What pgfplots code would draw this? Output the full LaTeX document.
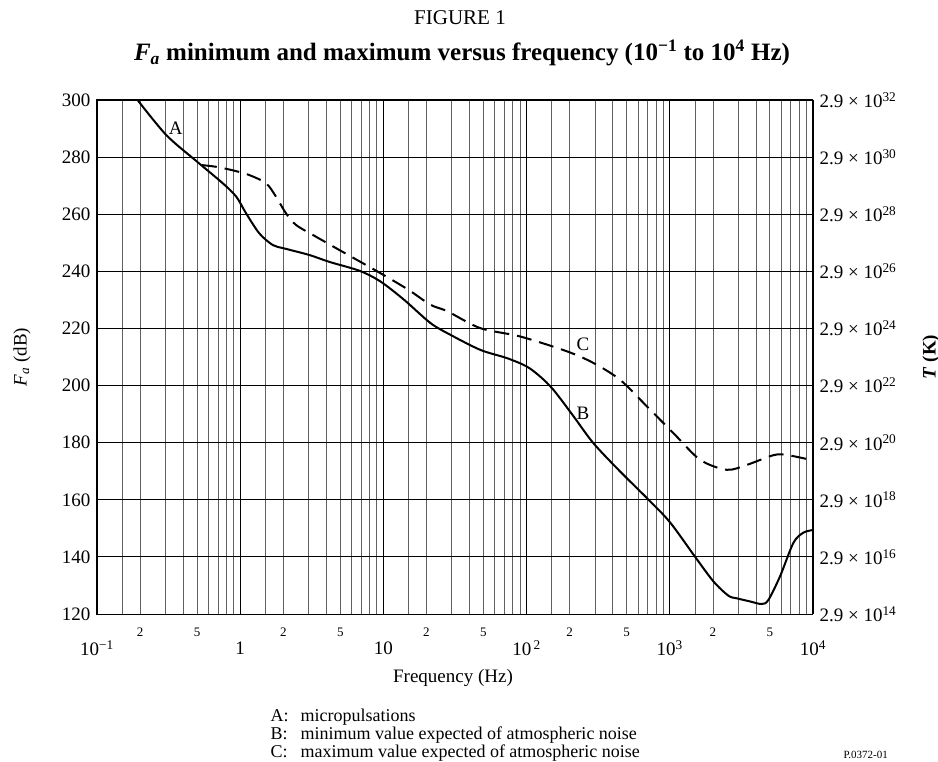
\documentclass[border=0pt]{standalone}
\usepackage{fontspec}
\setmainfont{Liberation Serif}
\usepackage{pgfplots}
\usepackage{pgfplotstable}
\pgfplotsset{compat=1.18}

% Curve A/B: micropulsations + minimum atmospheric noise (Hz, dB)
\pgfplotstableread{
f    Fa
0.192 300
0.305 287.7
0.5  278.4
0.757 270.8
0.94 266.1
1.10 260.3
1.36 253.3
1.69 249.2
2.04 248.0
3.05 245.7
4.2  243.3
6.8  240.2
9.5  236.5
13.9 230.1
21.3 221.9
29.3 217.8
47.5 212.5
73   209.6
100  206.7
124  203.2
154  198.5
213  189.2
293  179.8
450  169.9
692  160.6
1000 152.2
1503 140.0
2018 131.4
2567 126.4
2934 125.5
3633 124.4
4382 123.5
4878 124.9
5888 133.2
7295 144.9
8570 148.5
10000 149.4
}\curveB

% Curve C: maximum atmospheric noise (Hz, dB)
\pgfplotstableread{
f    Fa
0.54 277.2
0.68 276.6
0.9  275.3
1.16 273.7
1.52 270.8
1.78 266.1
2.09 260.3
2.46 256.2
3.39 252.1
5.2  246.8
9.5  239.4
15   233.5
21.3 228.3
28   226.0
47.5 220.1
90   217.2
191  212.0
293  207.9
450  202.0
692  192.7
1062 183.3
1629 174.0
2500 170.5
3445 172.2
5280 175.6
6550 175.7
10000 173.8
}\curveC

\newcommand{\fs}[1]{\fontsize{#1}{#1}\selectfont}

\begin{document}
\begin{tikzpicture}
\useasboundingbox (0,0) rectangle (938pt,-762pt);
\begin{axis}[
  at={(97pt,-100pt)}, anchor=north west,
  scale only axis, width=716pt, height=514pt,
  xmode=log, log basis x=10,
  xmin=0.1, xmax=10000, ymin=120, ymax=300,
  xtick={0.1,1,10,100,1000,10000},
  xticklabels={10\textsuperscript{−1},1,10,10\textsuperscript{\,2},10\textsuperscript{3},10\textsuperscript{4}},
  minor xtick={0.15,0.2,0.3,0.4,0.5,0.6,0.7,0.8,0.9,
               1.5,2,3,4,5,6,7,8,9,
               15,20,30,40,50,60,70,80,90,
               150,200,300,400,500,600,700,800,900,
               1500,2000,3000,4000,5000,6000,7000,8000,9000},
  ytick={120,140,...,300},
  yticklabels={120,140,160,180,200,220,240,260,280,300},
  grid=both,
  major grid style={black, line width=0.8pt},
  minor grid style={black!62, line width=0.8pt},
  major tick length=0pt, minor tick length=0pt,
  axis line style={black, line width=1pt},
  tick label style={font=\fs{19}},
  xticklabel style={anchor=center, yshift=-34pt},
  yticklabel style={xshift=-3pt},
  extra x ticks={0.2,0.5,2,5,20,50,200,500,2000,5000},
  extra x tick labels={2,5,2,5,2,5,2,5,2,5},
  extra x tick style={grid=none, major tick length=0pt,
     xticklabel style={font=\fs{13}, yshift=16pt}},
]
\addplot[black, line width=2pt, smooth] table[x=f, y=Fa] {\curveB};
\addplot[black, line width=2pt, smooth, dash pattern=on 15pt off 8pt] table[x=f, y=Fa] {\curveC};
\node[font=\fs{19}] at (axis cs:0.354,290.1) {A};
\node[font=\fs{19}] at (axis cs:248,214.3) {C};
\node[font=\fs{19}] at (axis cs:248,190.2) {B};
\end{axis}
\begin{axis}[
  at={(97pt,-100pt)}, anchor=north west,
  scale only axis, width=716pt, height=514pt,
  xmin=0, xmax=1, ymin=120, ymax=300,
  hide x axis, axis y line*=right,
  axis line style={black, line width=1pt},
  ytick={120,140,...,300},
  yticklabels={2.9 × 10\textsuperscript{14},2.9 × 10\textsuperscript{16},2.9 × 10\textsuperscript{18},2.9 × 10\textsuperscript{20},2.9 × 10\textsuperscript{22},2.9 × 10\textsuperscript{24},2.9 × 10\textsuperscript{26},2.9 × 10\textsuperscript{28},2.9 × 10\textsuperscript{30},2.9 × 10\textsuperscript{32}},
  major tick length=0pt,
  tick label style={font=\fs{19}},
  yticklabel style={xshift=3pt},
]
\addplot[draw=none] coordinates {(0,120) (1,300)};
\end{axis}

\node[font=\fs{21}] at (460pt,-18pt) {FIGURE 1};
\node[font=\fs{25}\bfseries] at (462pt,-53pt) {\textit{F\textsubscript{a}} minimum and maximum versus frequency (10\textsuperscript{−1} to 10\textsuperscript{4} Hz)};
\node[rotate=90, font=\fs{19}] at (22pt,-357pt) {\textit{F\textsubscript{a}} (dB)};
\node[rotate=90, font=\fs{19}\bfseries] at (931pt,-357pt) {\textit{T} (K)};
\node[font=\fs{19}] at (453pt,-678pt) {Frequency (Hz)};
\node[anchor=base west, font=\fs{18}] at (267pt,-721pt) {A:};
\node[anchor=base west, font=\fs{18}] at (297pt,-721pt) {micropulsations};
\node[anchor=base west, font=\fs{18}] at (267pt,-739pt) {B:};
\node[anchor=base west, font=\fs{18}] at (297pt,-739pt) {minimum value expected of atmospheric noise};
\node[anchor=base west, font=\fs{18}] at (267pt,-757pt) {C:};
\node[anchor=base west, font=\fs{18}] at (297pt,-757pt) {maximum value expected of atmospheric noise};
\node[anchor=base west, font=\fs{11}] at (840pt,-758pt) {P.0372-01};
\end{tikzpicture}
\end{document}
